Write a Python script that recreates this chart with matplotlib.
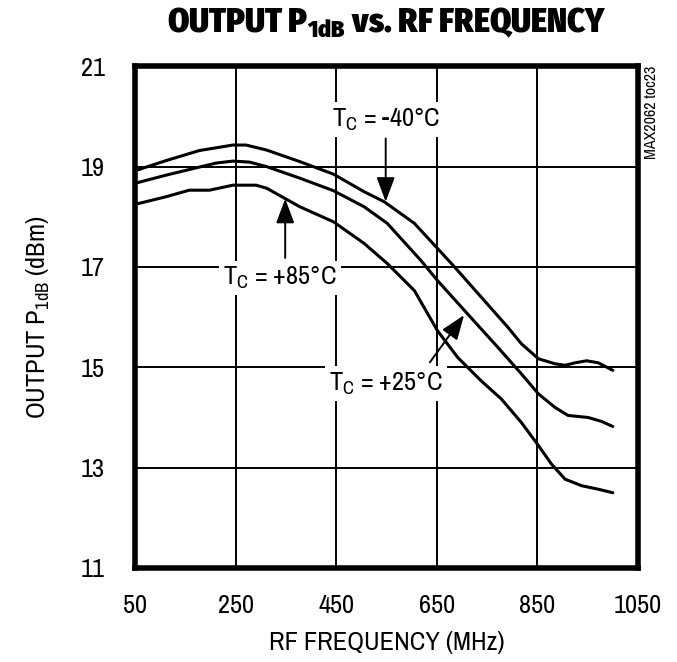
import matplotlib
matplotlib.use("Agg")
import matplotlib.pyplot as plt

FAM = ['Archivo Narrow', 'DejaVu Sans']
TITLE_FAM = ['Fira Sans Condensed', 'Archivo Narrow', 'DejaVu Sans']
plt.rcParams['font.family'] = FAM
plt.rcParams['mathtext.fontset'] = 'custom'

freq_m40 = [50, 111, 177, 244, 270, 311, 377, 444, 505, 545, 605, 651, 685, 738, 791, 818, 852, 885, 905, 925, 948, 971, 1000]
p1db_m40 = [18.92, 19.12, 19.32, 19.43, 19.43, 19.33, 19.10, 18.85, 18.50, 18.30, 17.87, 17.37, 17.00, 16.40, 15.80, 15.47, 15.17, 15.07, 15.04, 15.09, 15.13, 15.09, 14.94]

freq_25 = [50, 111, 177, 210, 244, 277, 311, 377, 444, 505, 551, 618, 651, 705, 771, 818, 852, 885, 911, 951, 978, 1000]
p1db_25 = [18.67, 18.83, 18.99, 19.07, 19.11, 19.09, 19.00, 18.77, 18.52, 18.20, 17.87, 17.13, 16.73, 16.13, 15.40, 14.87, 14.47, 14.20, 14.04, 14.00, 13.92, 13.82]

freq_85 = [50, 111, 157, 197, 244, 290, 311, 377, 444, 505, 551, 605, 651, 691, 738, 778, 818, 852, 878, 905, 938, 971, 1000]
p1db_85 = [18.25, 18.40, 18.53, 18.53, 18.63, 18.63, 18.57, 18.20, 17.90, 17.47, 17.07, 16.53, 15.73, 15.20, 14.73, 14.37, 13.90, 13.44, 13.07, 12.77, 12.64, 12.57, 12.50]

x_ticks = [50, 250, 450, 650, 850, 1050]
y_ticks = [11, 13, 15, 17, 19, 21]

fig = plt.figure(figsize=(6.77, 6.62), dpi=100)
ax = fig.add_axes([0.2001, 0.1420, 0.7422, 0.7579])

for f, p in [(freq_m40, p1db_m40), (freq_25, p1db_25), (freq_85, p1db_85)]:
    ax.plot(f, p, color='black', lw=2.2, solid_joinstyle='round', solid_capstyle='round', zorder=3)

ax.set_xlim(50, 1050)
ax.set_ylim(11, 21)
ax.set_xticks(x_ticks)
ax.set_yticks(y_ticks)
ax.set_xticklabels([str(v) for v in x_ticks], fontsize=19)
ax.set_yticklabels([str(v) for v in y_ticks], fontsize=19)
ax.tick_params(axis='x', length=0, pad=19)
ax.tick_params(axis='y', length=0, pad=22)
ax.grid(True, color='black', lw=1.4, zorder=1)
ax.set_axisbelow(True)
for s in ax.spines.values():
    s.set_linewidth(4.0)

ax.set_xlabel('RF FREQUENCY (MHz)', fontsize=19, labelpad=10)
ax.set_ylabel(r'OUTPUT P$_{\mathregular{1dB}}$ (dBm)', fontsize=19, labelpad=21)
fig.text(0.571, 0.966, r'OUTPUT P$_{\mathregular{1dB}}$ vs. RF FREQUENCY', fontsize=24.5,
         fontweight='black', ha='center', va='center', family=TITLE_FAM)
fig.text(0.963, 0.831, 'MAX2062 toc23', rotation=90, fontsize=11.5, ha='center', va='center')

box = dict(facecolor='white', edgecolor='none', pad=3)
arrow = dict(arrowstyle='-|>,head_length=0.75,head_width=0.28', color='black', lw=1.4,
             mutation_scale=20, shrinkA=0, shrinkB=0)
ax.text(548, 19.94, r'T$_{\mathregular{C}}$ = -40°C', fontsize=19, ha='center', va='center', bbox=box, zorder=4)
ax.annotate('', xy=(548, 18.3), xytext=(548, 19.56), arrowprops=arrow, zorder=4)
ax.text(338, 16.78, r'T$_{\mathregular{C}}$ = +85°C', fontsize=19, ha='center', va='center', bbox=box, zorder=4)
ax.annotate('', xy=(348, 18.36), xytext=(348, 17.18), arrowprops=arrow, zorder=4)
ax.text(548, 14.68, r'T$_{\mathregular{C}}$ = +25°C', fontsize=19, ha='center', va='center', bbox=box, zorder=4)
ax.annotate('', xy=(704, 16.04), xytext=(636, 15.1), arrowprops=arrow, zorder=4)

fig.savefig('out.png', dpi=100)
